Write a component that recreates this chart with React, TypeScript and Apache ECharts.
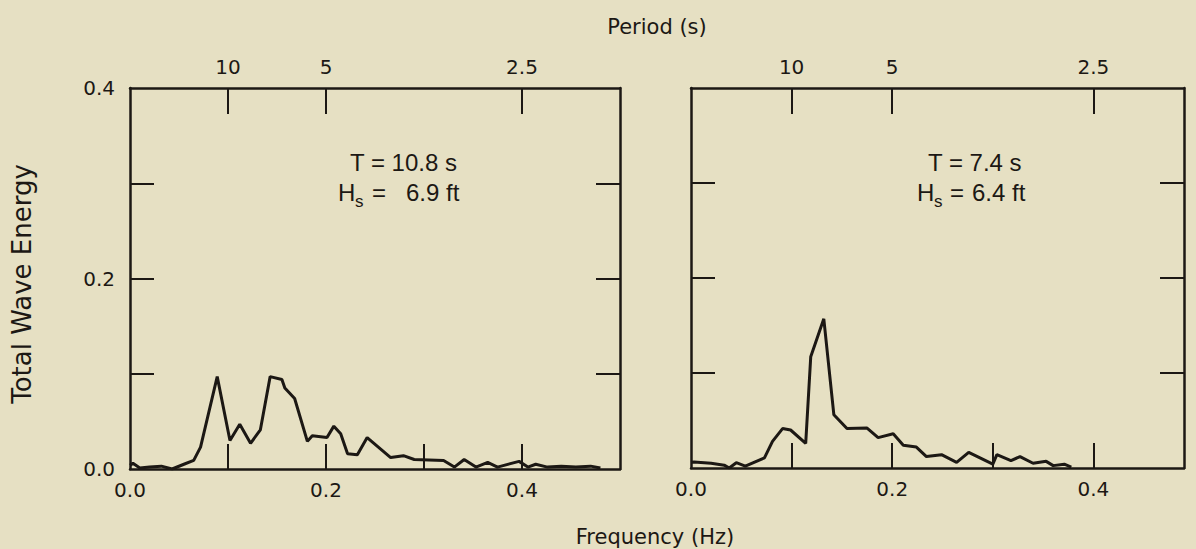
import React, { useEffect, useRef } from "react";
import * as echarts from "echarts";

// ---- Data ----
const leftFreq = [0.000, 0.003, 0.010, 0.020, 0.032, 0.043, 0.055, 0.065, 0.072, 0.089, 0.102, 0.112, 0.123, 0.133, 0.143, 0.155, 0.158, 0.168, 0.181, 0.186, 0.201, 0.208, 0.215, 0.222, 0.232, 0.242, 0.266, 0.279, 0.290, 0.320, 0.331, 0.341, 0.353, 0.365, 0.375, 0.397, 0.406, 0.414, 0.426, 0.440, 0.455, 0.470, 0.480];
const leftEnergy = [0.004, 0.006, 0.001, 0.002, 0.003, 0.000, 0.005, 0.009, 0.023, 0.097, 0.030, 0.047, 0.027, 0.041, 0.097, 0.094, 0.085, 0.074, 0.029, 0.035, 0.033, 0.045, 0.037, 0.016, 0.015, 0.033, 0.012, 0.014, 0.010, 0.009, 0.002, 0.010, 0.002, 0.007, 0.002, 0.008, 0.002, 0.005, 0.002, 0.003, 0.002, 0.003, 0.001];

const rightFreq = [0.000, 0.003, 0.020, 0.033, 0.038, 0.045, 0.054, 0.073, 0.081, 0.091, 0.099, 0.114, 0.119, 0.132, 0.142, 0.155, 0.175, 0.186, 0.201, 0.211, 0.224, 0.234, 0.249, 0.264, 0.276, 0.300, 0.304, 0.318, 0.327, 0.340, 0.353, 0.360, 0.371, 0.378];
const rightEnergy = [0.006, 0.0063, 0.005, 0.003, 0.000, 0.0056, 0.002, 0.0106, 0.028, 0.0415, 0.040, 0.026, 0.117, 0.157, 0.056, 0.0415, 0.042, 0.032, 0.036, 0.024, 0.022, 0.012, 0.014, 0.006, 0.0165, 0.004, 0.014, 0.0077, 0.012, 0.005, 0.007, 0.0025, 0.004, 0.001];

const periodTicks = [10, 5, 2.5];
const freqLabelValues = [0, 0.2, 0.4];
const freqTickValues = [0.1, 0.2, 0.3, 0.4];
const energyLabelValues = [0, 0.2, 0.4];
const energyTickValues = [0.1, 0.2, 0.3];

const annotations = [
  { T: "T = 10.8 s", Hs: "6.9 ft" },
  { T: "T = 7.4 s", Hs: "6.4 ft" },
];

const INK = "#1c1814";
const BG = "#e6e0c3";
const TICK_FONT = "DejaVu Sans";
const ANN_FONT = "Liberation Sans";

function zip(xs: number[], ys: number[]) {
  return xs.map((x, i) => [x, ys[i]]);
}

export default function App() {
  const ref = useRef<HTMLDivElement>(null);

  useEffect(() => {
    if (!ref.current) return;
    const chart = echarts.init(ref.current, null, { renderer: "svg" });

    const lineStyle = { color: INK, width: 2.5 };
    const periodFreqs = periodTicks.map((p) => 1 / p);

    const bottomAxis = (gridIndex: number, max: number) => ({
      type: "value",
      gridIndex,
      position: "bottom",
      min: 0,
      max,
      interval: 0.1,
      axisLine: { show: true, onZero: false, lineStyle },
      axisTick: {
        show: true,
        inside: true,
        length: 25,
        customValues: freqTickValues,
        lineStyle: { color: INK, width: 2 },
      },
      axisLabel: {
        show: true,
        customValues: freqLabelValues,
        formatter: (v: number) => v.toFixed(1),
        color: INK,
        fontFamily: TICK_FONT,
        fontSize: 20,
        margin: 11,
      },
      splitLine: { show: false },
    });

    const topAxis = (gridIndex: number, max: number) => ({
      type: "value",
      gridIndex,
      position: "top",
      min: 0,
      max,
      interval: 0.1,
      axisLine: { show: true, onZero: false, lineStyle },
      axisTick: {
        show: true,
        inside: true,
        length: 26,
        customValues: periodFreqs,
        lineStyle: { color: INK, width: 2 },
      },
      axisLabel: {
        show: true,
        customValues: periodFreqs,
        formatter: (v: number) => {
          const idx = periodFreqs.findIndex((f) => Math.abs(f - v) < 1e-6);
          return idx >= 0 ? String(periodTicks[idx]) : "";
        },
        color: INK,
        fontFamily: TICK_FONT,
        fontSize: 20,
        margin: 11,
      },
      splitLine: { show: false },
    });

    const yAxis = (gridIndex: number, position: string, labels: boolean) => ({
      type: "value",
      gridIndex,
      position,
      min: 0,
      max: 0.4,
      interval: 0.1,
      axisLine: { show: true, onZero: false, lineStyle },
      axisTick: {
        show: true,
        inside: true,
        length: 24,
        customValues: energyTickValues,
        lineStyle: { color: INK, width: 2 },
      },
      axisLabel: labels
        ? {
            show: true,
            customValues: energyLabelValues,
            formatter: (v: number) => v.toFixed(1),
            color: INK,
            fontFamily: TICK_FONT,
            fontSize: 20,
            margin: 15,
          }
        : { show: false },
      splitLine: { show: false },
    });

    const annText = (x: number, y: number, text: string, size = 24) => ({
      type: "text",
      x,
      y,
      style: {
        text,
        fill: INK,
        font: `${size}px "${ANN_FONT}"`,
        align: "left",
        verticalAlign: "middle",
      },
    });

    const annPos = [
      { tx: 350, hx: 338, sx: 355, ex: 372, vx: 406 },
      { tx: 928, hx: 917, sx: 934, ex: 950, vx: 972 },
    ];

    const graphics: any[] = [];
    annotations.forEach((a, i) => {
      const p = annPos[i];
      graphics.push(annText(p.tx, 162, a.T));
      graphics.push(annText(p.hx, 192, "H"));
      graphics.push(annText(p.sx, 201, "s", 17));
      graphics.push(annText(p.ex, 192, "="));
      graphics.push(annText(p.vx, 192, a.Hs));
    });
    graphics.push({
      type: "text",
      x: 657,
      y: 27,
      style: {
        text: "Period (s)",
        fill: INK,
        font: `21px "${TICK_FONT}"`,
        align: "center",
        verticalAlign: "middle",
      },
    });
    graphics.push({
      type: "text",
      x: 655,
      y: 537,
      style: {
        text: "Frequency (Hz)",
        fill: INK,
        font: `21px "${TICK_FONT}"`,
        align: "center",
        verticalAlign: "middle",
      },
    });
    graphics.push({
      type: "text",
      x: 22,
      y: 284,
      rotation: Math.PI / 2,
      style: {
        text: "Total Wave Energy",
        fill: INK,
        font: `26px "${TICK_FONT}"`,
        align: "center",
        verticalAlign: "middle",
      },
    });

    chart.setOption({
      animation: false,
      backgroundColor: BG,
      grid: [
        { left: 130, top: 88, width: 490, height: 381 },
        { left: 691, top: 88, width: 493, height: 380 },
      ],
      xAxis: [
        bottomAxis(0, 0.5),
        topAxis(0, 0.5),
        bottomAxis(1, 0.49),
        topAxis(1, 0.49),
      ],
      yAxis: [
        yAxis(0, "left", true),
        yAxis(0, "right", false),
        yAxis(1, "left", false),
        yAxis(1, "right", false),
      ],
      series: [
        {
          type: "line",
          xAxisIndex: 0,
          yAxisIndex: 0,
          data: zip(leftFreq, leftEnergy),
          showSymbol: false,
          lineStyle: { color: INK, width: 3 },
        },
        {
          type: "line",
          xAxisIndex: 2,
          yAxisIndex: 2,
          data: zip(rightFreq, rightEnergy),
          showSymbol: false,
          lineStyle: { color: INK, width: 3 },
        },
      ],
      graphic: graphics,
    });

    return () => chart.dispose();
  }, []);

  return (
    <div
      ref={ref}
      style={{ position: "fixed", left: 0, top: 0, width: 1196, height: 549 }}
    />
  );
}
